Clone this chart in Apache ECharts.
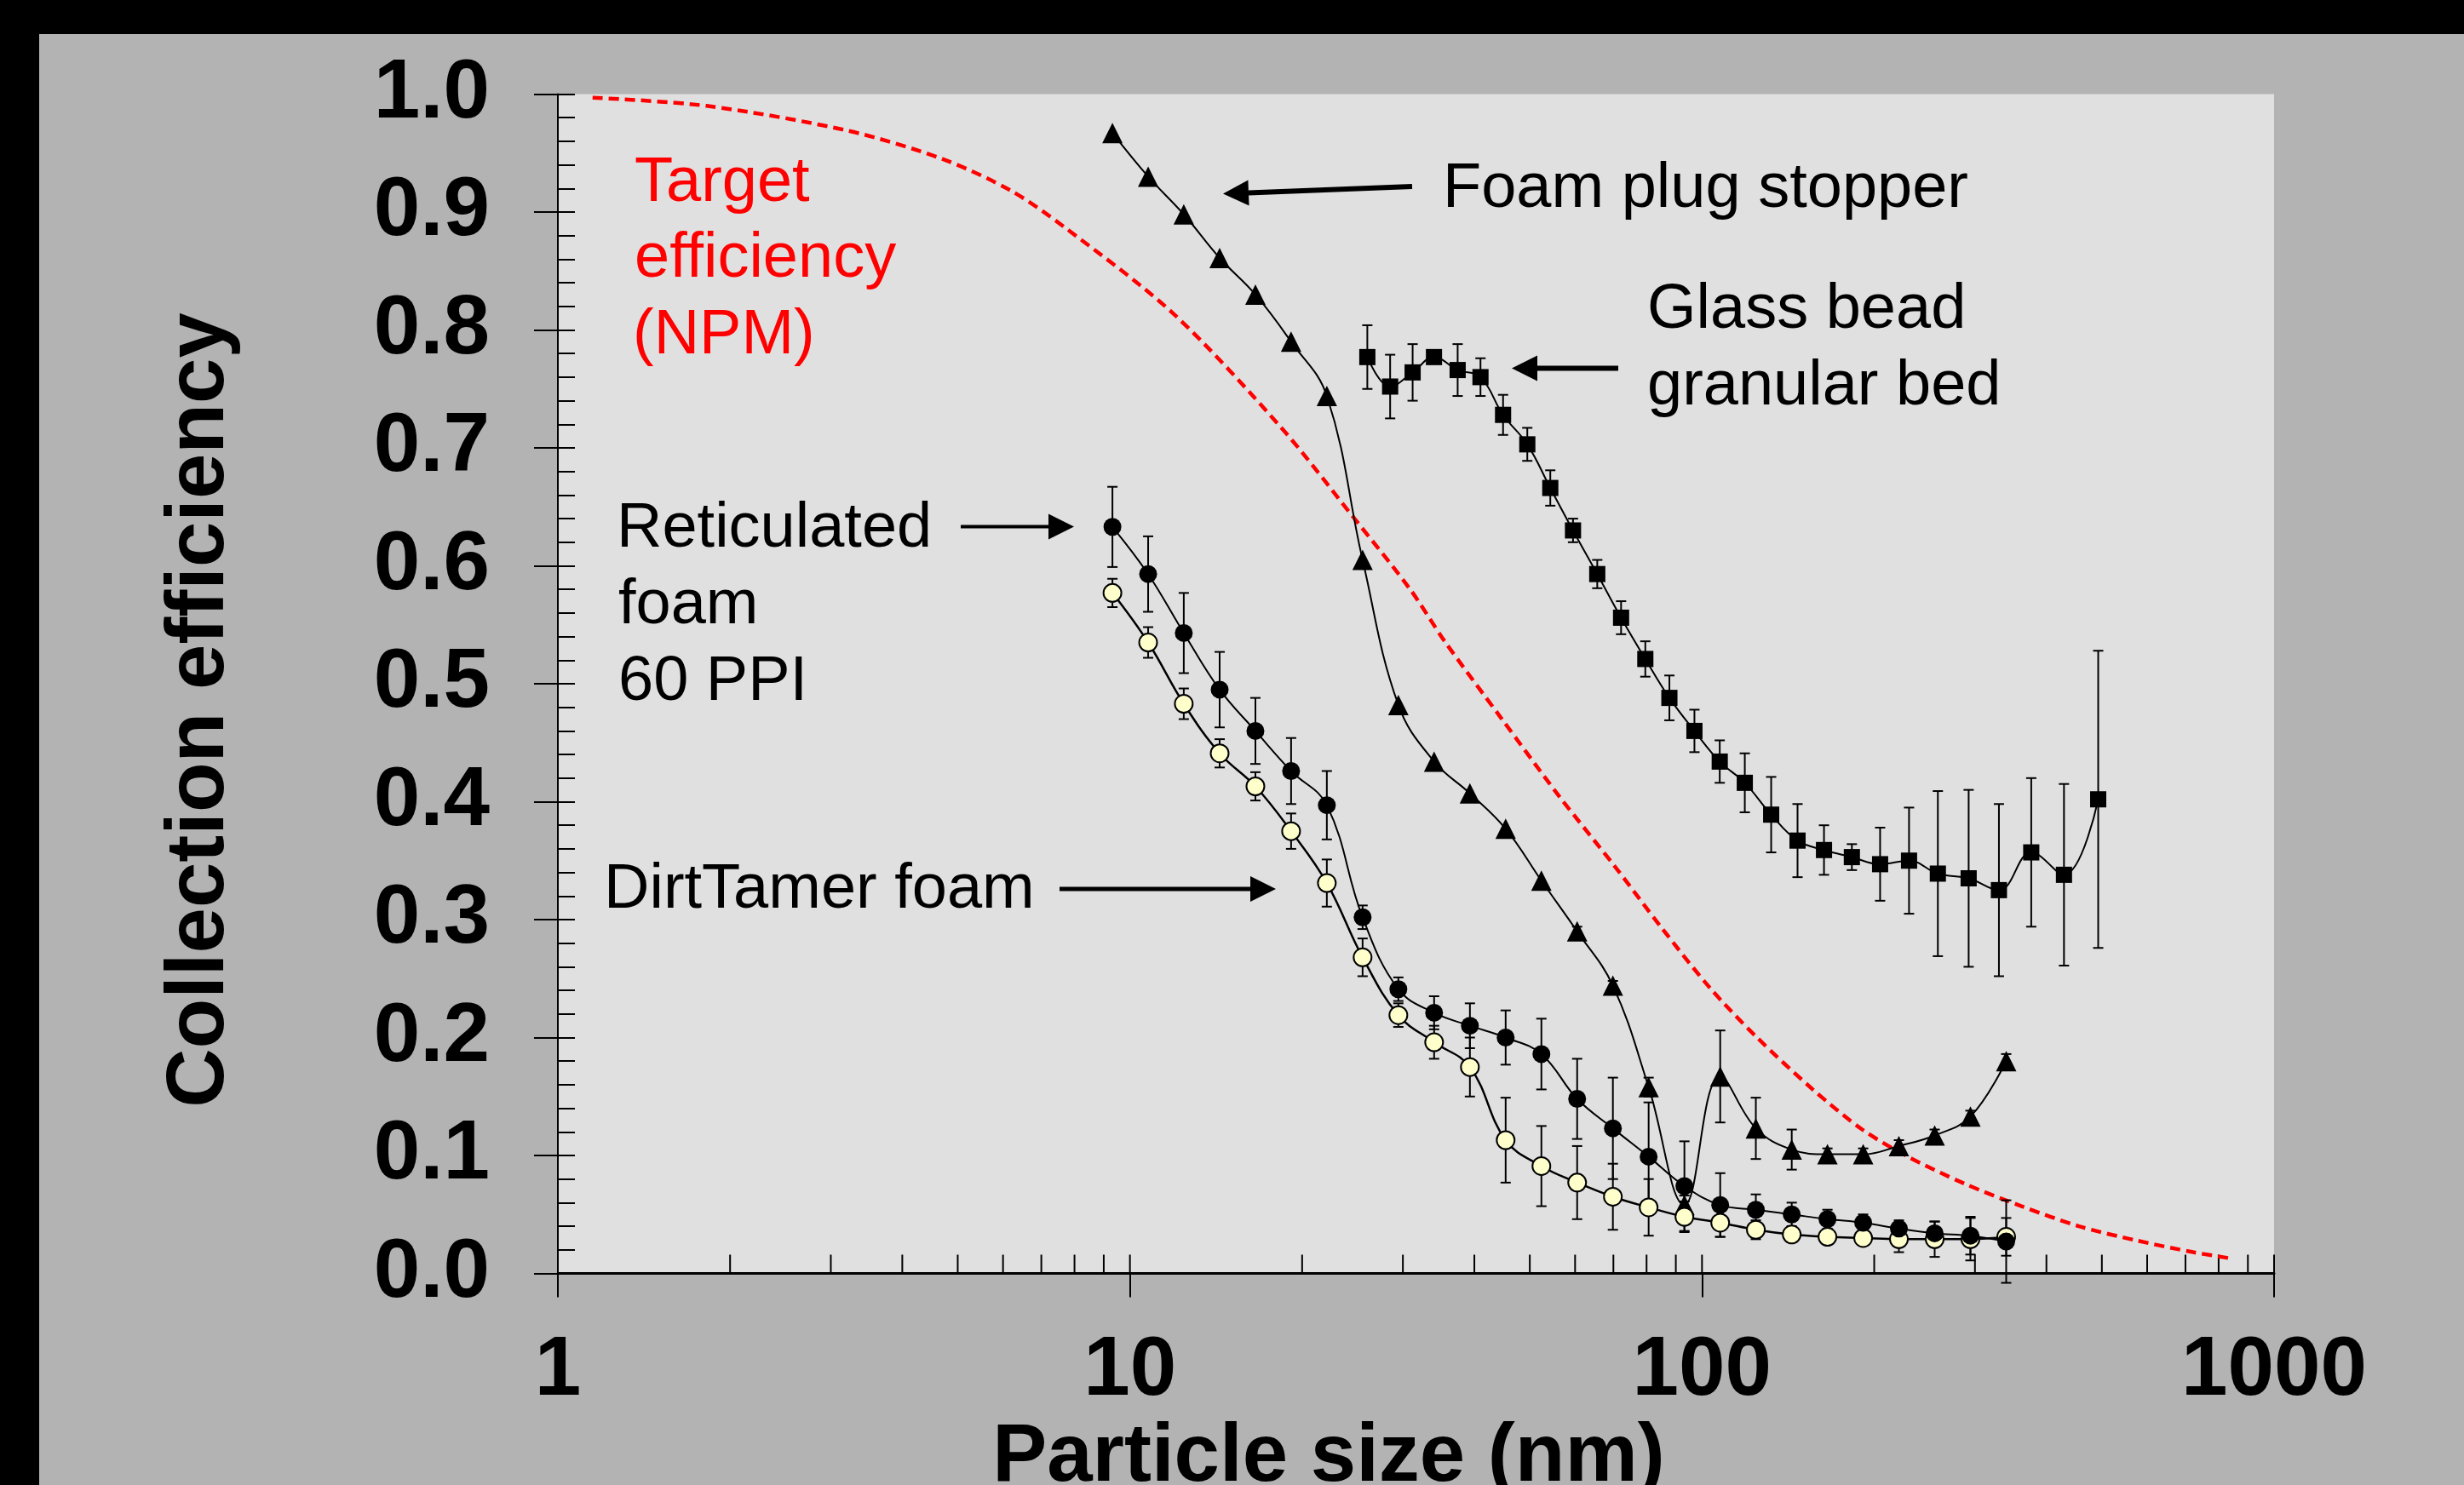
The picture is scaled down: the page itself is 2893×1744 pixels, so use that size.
<!DOCTYPE html>
<html lang="en">
<head>
  <meta charset="utf-8">
  <style>
    html, body {
      margin: 0;
      padding: 0;
      width: 100%;
      height: 100%;
      overflow: hidden;
      background: #000;
    }
    #panel {
      position: absolute;
      left: 46px;
      top: 40px;
      right: 0;
      bottom: 0;
      background: #b3b3b3;
    }
    #container {
      position: absolute;
      left: 0;
      top: 0;
      width: 100%;
      height: 100%;
    }
  </style>
  <script src="https://cdn.jsdelivr.net/npm/echarts@6/dist/echarts.min.js"></script>
</head>
<body>
  <div id="panel"></div>
  <div id="container"></div>
  <script>
    // particle sizes (nm) of the SMPS channels used by the three foam tests
    var sizeNm = [9.32, 10.76, 12.42, 14.35, 16.57, 19.13, 22.09, 25.51, 29.46, 34.02,
      39.29, 45.37, 52.39, 60.50, 69.86, 80.67, 93.16, 107.6, 124.2, 143.5,
      165.7, 191.3, 220.9, 255.1, 294.6, 340.2];

    var foamPlug = [0.967, 0.930, 0.898, 0.861, 0.830, 0.790, 0.744, 0.605, 0.482, 0.434,
      0.407, 0.377, 0.333, 0.290, 0.244, 0.158, 0.058, 0.167, 0.123, 0.105,
      0.101, 0.101, 0.108, 0.117, 0.133, 0.180];
    var foamPlugErr = [0, 0, 0, 0, 0, 0, 0, 0, 0, 0,
      0, 0, 0, 0.004, 0.004, 0.008, 0.008, 0.039, 0.026, 0.017,
      0.005, 0.005, 0.005, 0.005, 0.005, 0.006];

    var reticulated = [0.633, 0.593, 0.543, 0.495, 0.460, 0.426, 0.397, 0.302, 0.241, 0.221,
      0.210, 0.200, 0.186, 0.148, 0.123, 0.099, 0.074, 0.058, 0.054, 0.050,
      0.046, 0.043, 0.038, 0.034, 0.032, 0.027];
    var reticulatedErr = [0.034, 0.032, 0.034, 0.032, 0.028, 0.028, 0.029, 0.010, 0.010, 0.014,
      0.019, 0.023, 0.030, 0.034, 0.043, 0.046, 0.038, 0.027, 0.013, 0.010,
      0.008, 0.007, 0.007, 0.010, 0.016, 0.035];

    var dirtTamer = [0.577, 0.535, 0.483, 0.441, 0.413, 0.375, 0.331, 0.268, 0.219, 0.196,
      0.175, 0.113, 0.091, 0.077, 0.065, 0.056, 0.048, 0.043, 0.037, 0.033,
      0.031, 0.030, 0.029, 0.029, 0.029, 0.031];
    var dirtTamerErr = [0.012, 0.013, 0.013, 0.012, 0.012, 0.015, 0.020, 0.016, 0.010, 0.014,
      0.025, 0.036, 0.034, 0.031, 0.028, 0.024, 0.013, 0.012, 0.008, 0.006,
      0.005, 0.006, 0.011, 0.015, 0.018, 0.016];

    // glass bead bed was measured on its own size grid
    var beadSizeNm = [26.0, 28.5, 31.2, 34.0, 37.4, 41.0, 44.9, 49.5, 54.3, 59.5,
      65.6, 72.2, 79.6, 87.7, 97.0, 107.4, 118.8, 132.1, 146.9, 163.4,
      182.8, 204.8, 230.1, 258.4, 292.5, 330.4, 376.3, 429.3, 492.7];
    var glassBead = [0.777, 0.752, 0.764, 0.777, 0.766, 0.760, 0.728, 0.703, 0.666, 0.630,
      0.593, 0.556, 0.521, 0.488, 0.460, 0.434, 0.416, 0.389, 0.367, 0.359,
      0.353, 0.347, 0.350, 0.339, 0.335, 0.325, 0.357, 0.338, 0.402];
    var glassBeadErr = [0.027, 0.027, 0.024, 0.005, 0.022, 0.016, 0.017, 0.014, 0.015, 0.010,
      0.012, 0.014, 0.015, 0.019, 0.018, 0.018, 0.025, 0.032, 0.031, 0.021,
      0.011, 0.031, 0.045, 0.070, 0.075, 0.073, 0.063, 0.077, 0.126];

    // target efficiency curve (NPM)
    var targetSize = [1.15, 1.82, 3.21, 4.7, 6.2, 7.69, 11.9, 18.4, 24.6, 30.9,
      35.5, 44.7, 56.2, 70.7, 84.7, 103.3, 124.2, 156.2, 190.6, 229,
      288, 362, 456, 574, 722, 848];
    var targetEff = [0.997, 0.990, 0.969, 0.945, 0.918, 0.887, 0.814, 0.717, 0.641, 0.580,
      0.536, 0.470, 0.405, 0.344, 0.294, 0.242, 0.201, 0.156, 0.122, 0.099,
      0.076, 0.057, 0.040, 0.028, 0.018, 0.0124];

    var xTickValues = [1, 2, 3, 4, 5, 6, 7, 8, 9, 10, 20, 30, 40, 50, 60, 70, 80, 90,
      100, 200, 300, 400, 500, 600, 700, 800, 900, 1000];

    var FONT = '"Liberation Sans", Arial, sans-serif';

    function pairs(xs, ys) {
      return xs.map(function (x, i) { return [x, ys[i]]; });
    }
    function bars(xs, ys, es) {
      var out = [];
      xs.forEach(function (x, i) {
        if (es[i] > 0) out.push([x, ys[i] - es[i], ys[i] + es[i]]);
      });
      return out;
    }

    function renderErrorBar(params, api) {
      var x = api.value(0);
      var top = api.coord([x, api.value(2)]);
      var bot = api.coord([x, api.value(1)]);
      var w = 6;
      var st = { stroke: '#000', lineWidth: 2 };
      return {
        type: 'group',
        children: [
          { type: 'line', shape: { x1: top[0], y1: top[1], x2: bot[0], y2: bot[1] }, style: st },
          { type: 'line', shape: { x1: top[0] - w, y1: top[1], x2: top[0] + w, y2: top[1] }, style: st },
          { type: 'line', shape: { x1: bot[0] - w, y1: bot[1], x2: bot[0] + w, y2: bot[1] }, style: st }
        ]
      };
    }

    function renderMinorTick(params, api) {
      var p = api.coord([api.value(0), 0]);
      return {
        type: 'line',
        shape: { x1: p[0], y1: p[1], x2: p[0], y2: p[1] - 22 },
        style: { stroke: '#000', lineWidth: 2 }
      };
    }

    function errSeries(data) {
      return {
        type: 'custom',
        renderItem: renderErrorBar,
        data: data,
        encode: { x: 0, y: [1, 2] },
        z: 3,
        silent: true
      };
    }

    function label(text, x, y, color) {
      return {
        type: 'text', x: x, y: y, z: 100,
        style: {
          text: text, fill: color || '#000',
          font: '74px ' + FONT,
          textAlign: 'left', textVerticalAlign: 'middle'
        }
      };
    }
    function arrow(x1, y1, x2, y2, lw) {
      // shaft from (x1,y1) to the arrow tip (x2,y2)
      var dx = x2 - x1, dy = y2 - y1;
      var len = Math.sqrt(dx * dx + dy * dy);
      var ux = dx / len, uy = dy / len;
      var bx = x2 - ux * 30, by = y2 - uy * 30;
      return [{
        type: 'line', z: 100,
        shape: { x1: x1, y1: y1, x2: bx, y2: by },
        style: { stroke: '#000', lineWidth: lw }
      }, {
        type: 'polygon', z: 100,
        shape: { points: [[x2, y2], [bx - uy * 15, by + ux * 15], [bx + uy * 15, by - ux * 15]] },
        style: { fill: '#000' }
      }];
    }

    var dom = document.getElementById('container');
    var myChart = echarts.init(dom, null, { renderer: 'canvas' });

    var option = {
      animation: false,
      backgroundColor: 'transparent',
      grid: {
        left: 655, top: 110.5, width: 2015, height: 1385,
        show: true, backgroundColor: '#e0e0e0', borderWidth: 0
      },
      xAxis: {
        type: 'log',
        logBase: 10,
        min: 1,
        max: 1000,
        axisLine: { onZero: false, lineStyle: { color: '#000', width: 3 } },
        axisTick: { inside: false, length: 28, lineStyle: { color: '#000', width: 2 } },
        axisLabel: {
          margin: 66,
          color: '#000',
          fontSize: 98,
          fontWeight: 'bold',
          fontFamily: FONT,
          formatter: function (v) { return String(Math.round(v)); }
        },
        splitLine: { show: false }
      },
      yAxis: [{
        type: 'value',
        min: 0,
        max: 1,
        interval: 0.1,
        axisLine: { show: true, onZero: false, lineStyle: { color: '#000', width: 2 } },
        axisTick: { show: true, inside: false, length: 28, lineStyle: { color: '#000', width: 2 } },
        axisLabel: {
          margin: 80,
          color: '#000',
          fontSize: 98,
          fontWeight: 'bold',
          fontFamily: FONT,
          formatter: function (v) { return v.toFixed(1); }
        },
        splitLine: { show: false }
      }, {
        type: 'value',
        min: 0,
        max: 1,
        interval: 0.02,
        position: 'left',
        axisLine: { show: false },
        axisTick: { show: true, inside: true, length: 20, lineStyle: { color: '#000', width: 2 } },
        axisLabel: { show: false },
        splitLine: { show: false }
      }],
      series: [
        {
          type: 'custom',
          renderItem: renderMinorTick,
          data: xTickValues.map(function (v) { return [v, 0]; }),
          encode: { x: 0, y: 1 },
          silent: true,
          z: 1
        },
        {
          name: 'Target efficiency (NPM)',
          type: 'line',
          data: pairs(targetSize, targetEff),
          smooth: 0.3,
          showSymbol: false,
          lineStyle: { color: '#ff0000', width: 4.5, type: [12, 7] },
          z: 2
        },
        errSeries(bars(sizeNm, foamPlug, foamPlugErr)),
        errSeries(bars(beadSizeNm, glassBead, glassBeadErr)),
        errSeries(bars(sizeNm, reticulated, reticulatedErr)),
        errSeries(bars(sizeNm, dirtTamer, dirtTamerErr)),
        {
          name: 'Foam plug stopper',
          type: 'line',
          data: pairs(sizeNm, foamPlug),
          smooth: 0.4,
          symbol: 'triangle',
          symbolSize: 24,
          itemStyle: { color: '#000' },
          lineStyle: { color: '#000', width: 2 },
          z: 4
        },
        {
          name: 'Glass bead granular bed',
          type: 'line',
          data: pairs(beadSizeNm, glassBead),
          smooth: 0.4,
          symbol: 'rect',
          symbolSize: 19,
          itemStyle: { color: '#000' },
          lineStyle: { color: '#000', width: 2 },
          z: 4
        },
        {
          name: 'DirtTamer foam',
          type: 'line',
          data: pairs(sizeNm, dirtTamer),
          smooth: 0.4,
          symbol: 'circle',
          symbolSize: 21,
          itemStyle: { color: '#ffffcc', borderColor: '#000', borderWidth: 2 },
          lineStyle: { color: '#000', width: 2.5 },
          z: 4
        },
        {
          name: 'Reticulated foam 60 PPI',
          type: 'line',
          data: pairs(sizeNm, reticulated),
          smooth: 0.4,
          symbol: 'circle',
          symbolSize: 21,
          itemStyle: { color: '#000' },
          lineStyle: { color: '#000', width: 2 },
          z: 5
        }
      ],
      graphic: [
        label('Target', 745, 216, '#ff0000'),
        label('efficiency', 745, 305, '#ff0000'),
        label('(NPM)', 743, 395, '#ff0000'),
        label('Foam plug stopper', 1694, 223),
        label('Glass bead', 1934, 365),
        label('granular bed', 1934, 455),
        label('Reticulated', 724, 622),
        label('foam', 726, 712),
        label('60 PPI', 726, 802),
        label('DirtTamer foam', 709, 1046),
        {
          type: 'text', x: 1560, y: 1713, z: 100,
          style: {
            text: 'Particle size (nm)', fill: '#000',
            font: 'bold 96px ' + FONT,
            textAlign: 'center', textVerticalAlign: 'middle'
          }
        },
        {
          type: 'text', x: 236, y: 834, rotation: Math.PI / 2, z: 100,
          style: {
            text: 'Collection efficiency', fill: '#000',
            font: 'bold 96px ' + FONT,
            textAlign: 'center', textVerticalAlign: 'middle'
          }
        }
      ].concat(
        arrow(1658, 219, 1436, 227.6, 6),
        arrow(1900, 432.5, 1775, 432.5, 6),
        arrow(1128, 618.4, 1261, 618.4, 4),
        arrow(1244, 1044, 1498, 1044, 5)
      )
    };

    myChart.setOption(option);
    window.addEventListener('resize', myChart.resize);
  </script>
</body>
</html>
